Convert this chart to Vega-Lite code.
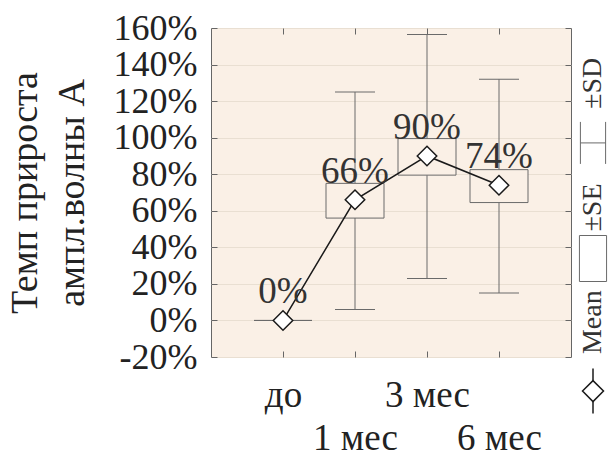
{
  "$schema": "https://vega.github.io/schema/vega-lite/v6.json",
  "background": "white",
  "padding": {"left": 5, "top": 9, "right": 0, "bottom": 0},
  "config": {"font": "Liberation Serif"},
  "bounds": "flush",
  "spacing": 7,
  "hconcat": [
    {
      "width": 360,
      "height": 329,
      "view": {"fill": "#FAF0E6", "stroke": "#666666", "strokeWidth": 1},
      "data": {"values": [
        {"cat": "до", "mean": 0, "se_lo": 0, "se_hi": 0, "sd_lo": 0, "sd_hi": 0, "label": "0%"},
        {"cat": "1 мес", "mean": 66, "se_lo": 56, "se_hi": 75, "sd_lo": 6, "sd_hi": 125, "label": "66%"},
        {"cat": "3 мес", "mean": 90, "se_lo": 79.5, "se_hi": 99.5, "sd_lo": 23, "sd_hi": 156.5, "label": "90%"},
        {"cat": "6 мес", "mean": 74, "se_lo": 64.5, "se_hi": 82.5, "sd_lo": 15, "sd_hi": 132, "label": "74%"}
      ]},
      "resolve": {"axis": {"x": "independent", "y": "independent"}},
      "layer": [
        {
          "mark": {"type": "rule", "color": "#6a6a6a", "strokeWidth": 1},
          "encoding": {
            "x": {"field": "cat", "type": "nominal", "scale": {"type": "point", "padding": 1, "domain": ["до", "1 мес", "3 мес", "6 мес"]},
                  "axis": {"orient": "top", "labels": false, "domain": false, "grid": false, "title": null, "ticks": true, "tickSize": -6, "tickColor": "#666666"}},
            "y": {"field": "sd_lo", "type": "quantitative", "scale": {"domain": [-20, 160], "nice": false, "zero": false},
                  "axis": {"orient": "right", "labels": false, "domain": false, "grid": false, "title": null, "ticks": true, "tickSize": -6, "tickColor": "#666666", "values": [-20, 0, 20, 40, 60, 80, 100, 120, 140, 160]}},
            "y2": {"field": "sd_hi"}
          }
        },
        {
          "mark": {"type": "tick", "color": "#6a6a6a", "thickness": 1, "size": 40, "opacity": 1},
          "encoding": {
            "x": {"field": "cat", "type": "nominal", "axis": null},
            "y": {"field": "sd_hi", "type": "quantitative", "axis": null}
          }
        },
        {
          "mark": {"type": "tick", "color": "#6a6a6a", "thickness": 1, "size": 40, "opacity": 1},
          "encoding": {
            "x": {"field": "cat", "type": "nominal", "axis": null},
            "y": {"field": "sd_lo", "type": "quantitative", "axis": null}
          }
        },
        {
          "mark": {"type": "bar", "width": 58, "fill": "#FAF0E6", "stroke": "#6a6a6a", "strokeWidth": 1},
          "encoding": {
            "x": {"field": "cat", "type": "nominal", "axis": null},
            "y": {"field": "se_lo", "type": "quantitative", "axis": null},
            "y2": {"field": "se_hi"}
          }
        },
        {
          "mark": {"type": "line", "color": "#1a1a1a", "strokeWidth": 1.5},
          "encoding": {
            "x": {"field": "cat", "type": "nominal", "sort": null, "axis": null},
            "y": {"field": "mean", "type": "quantitative", "axis": null}
          }
        },
        {
          "mark": {"type": "point", "shape": "diamond", "size": 380, "filled": true, "fill": "white", "stroke": "#1a1a1a", "strokeWidth": 1.5, "opacity": 1},
          "encoding": {
            "x": {"field": "cat", "type": "nominal",
                  "axis": {"orient": "bottom", "title": null, "domain": false, "grid": false, "tickSize": -6, "tickColor": "#666666",
                           "labelFont": "Liberation Serif", "labelFontSize": 37, "labelColor": "#222222", "labelAngle": 0,
                           "labelPadding": 26, "labelLineHeight": 43, "labelOverlap": false,
                           "labelExpr": "(datum.label == '1 мес' || datum.label == '6 мес') ? ['', datum.label] : datum.label"}},
            "y": {"field": "mean", "type": "quantitative",
                  "axis": {"orient": "left", "domain": false, "grid": true, "gridColor": "#E9DFD2", "gridWidth": 1,
                           "tickSize": -6, "tickColor": "#666666",
                           "values": [-20, 0, 20, 40, 60, 80, 100, 120, 140, 160],
                           "labelOverlap": false, "labelFlush": false,
                           "labelExpr": "datum.value + '%'",
                           "labelFont": "Liberation Serif", "labelFontSize": 36, "labelColor": "#222222", "labelPadding": 20,
                           "title": ["Темп прироста", "ампл.волны А"],
                           "titleFont": "Liberation Serif", "titleFontSize": 38, "titleFontWeight": "normal", "titleColor": "#222222",
                           "titleLineHeight": 47, "titlePadding": 22}}
          }
        },
        {
          "mark": {"type": "text", "dy": -17, "baseline": "alphabetic", "align": "center", "fontSize": 37, "font": "Liberation Serif", "color": "#333333"},
          "encoding": {
            "x": {"field": "cat", "type": "nominal", "axis": null},
            "y": {"field": "mean", "type": "quantitative", "axis": null},
            "text": {"field": "label"}
          }
        }
      ]
    },
    {
      "width": 30,
      "height": 407,
      "view": {"stroke": null, "fill": null},
      "data": {"values": [{"item": "±SD"}, {"item": "±SE"}, {"item": "Mean"}]},
      "encoding": {
        "y": {"field": "item", "type": "nominal", "scale": {"type": "point", "padding": 0.66, "domain": ["±SD", "±SE", "Mean"]}, "axis": null}
      },
      "layer": [
        {
          "mark": {"type": "text", "angle": -90, "align": "left", "baseline": "middle", "fontSize": 28, "font": "Liberation Serif", "color": "#333333"},
          "encoding": {"text": {"field": "item"}}
        },
        {
          "transform": [{"filter": "datum.item == 'Mean'"}],
          "mark": {"type": "point", "shape": "M0,-1L0,1", "size": 2025, "filled": false, "stroke": "#1a1a1a", "strokeWidth": 1.5, "opacity": 1, "yOffset": 37}
        },
        {
          "transform": [{"filter": "datum.item == 'Mean'"}],
          "mark": {"type": "point", "shape": "diamond", "size": 440, "filled": true, "fill": "white", "stroke": "#1a1a1a", "strokeWidth": 1.5, "opacity": 1, "yOffset": 37}
        },
        {
          "transform": [{"filter": "datum.item == '±SE'"}],
          "mark": {"type": "point", "shape": "M-0.59,-1H0.59V1H-0.59Z", "size": 2116, "filled": false, "stroke": "#6a6a6a", "strokeWidth": 1, "opacity": 1, "yOffset": 27}
        },
        {
          "transform": [{"filter": "datum.item == '±SD'"}],
          "mark": {"type": "point", "shape": "M-0.6,-1V1M0.6,-1V1M-0.6,0H0.6", "size": 1764, "filled": false, "stroke": "#6a6a6a", "strokeWidth": 1, "opacity": 1, "yOffset": 34}
        }
      ]
    }
  ]
}
